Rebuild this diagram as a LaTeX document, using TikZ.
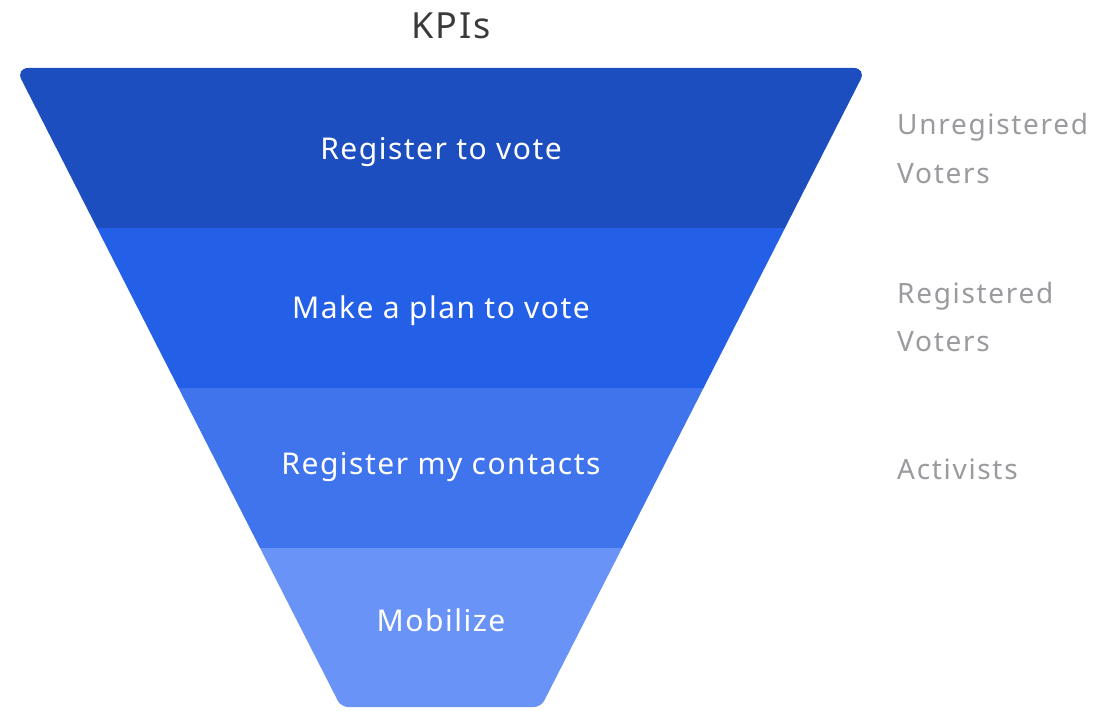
\documentclass[tikz,border=0pt]{standalone}
\usepackage{fontspec}
\setmainfont{Noto Sans}
\newfontfamily\stagefont[LetterSpace=5]{Noto Sans}
\newfontfamily\titlefont[LetterSpace=5]{Noto Sans}
\newfontfamily\labfont[LetterSpace=6]{Noto Sans}
\definecolor{bandA}{HTML}{1D4EC0}
\definecolor{bandB}{HTML}{245FE8}
\definecolor{bandC}{HTML}{3F74EC}
\definecolor{bandD}{HTML}{6993F6}
\definecolor{titlegray}{HTML}{3A3A3C}
\definecolor{sidegray}{HTML}{9B9B9F}
\tikzset{
  stagetext/.style={text=white, font=\stagefont\fontsize{30}{36}\selectfont, inner sep=0pt, anchor=center},
  sidetext/.style={text=sidegray, font=\labfont\fontsize{28}{48}\selectfont, inner sep=0pt, anchor=base west, align=left},
  titletext/.style={text=titlegray, font=\titlefont\fontsize{36}{42}\selectfont, inner sep=0pt, anchor=base}
}
\begin{document}
\begin{tikzpicture}[x=1pt,y=-1pt]
\useasboundingbox (0,0) rectangle (1102,722);
\begin{scope}
  \clip (441,68) [rounded corners=13pt] -- (866.5,68) [rounded corners=7pt] -- (541,707) -- (341,707) [rounded corners=13pt] -- (15.5,68) [sharp corners] -- cycle;
  \fill[bandA] (0,60) rectangle (1102,228);
  \fill[bandB] (0,228) rectangle (1102,388);
  \fill[bandC] (0,388) rectangle (1102,548);
  \fill[bandD] (0,548) rectangle (1102,720);
\end{scope}
\node[titletext] (kpi) at (451,39) {KPIs};
\node[stagetext] (s1) at (441,152) {Register to vote};
\node[stagetext] (s2) at (441,311) {Make a plan to vote};
\node[stagetext] (s3) at (441,467) {Register my contacts};
\node[stagetext] (s4) at (441,620) {Mobilize};
\node[sidetext] (l1) at (897,183) {Unregistered\\Voters};
\node[sidetext] (l2) at (897,351) {Registered\\Voters};
\node[sidetext] (l3) at (897,479) {Activists};
\end{tikzpicture}
\end{document}
